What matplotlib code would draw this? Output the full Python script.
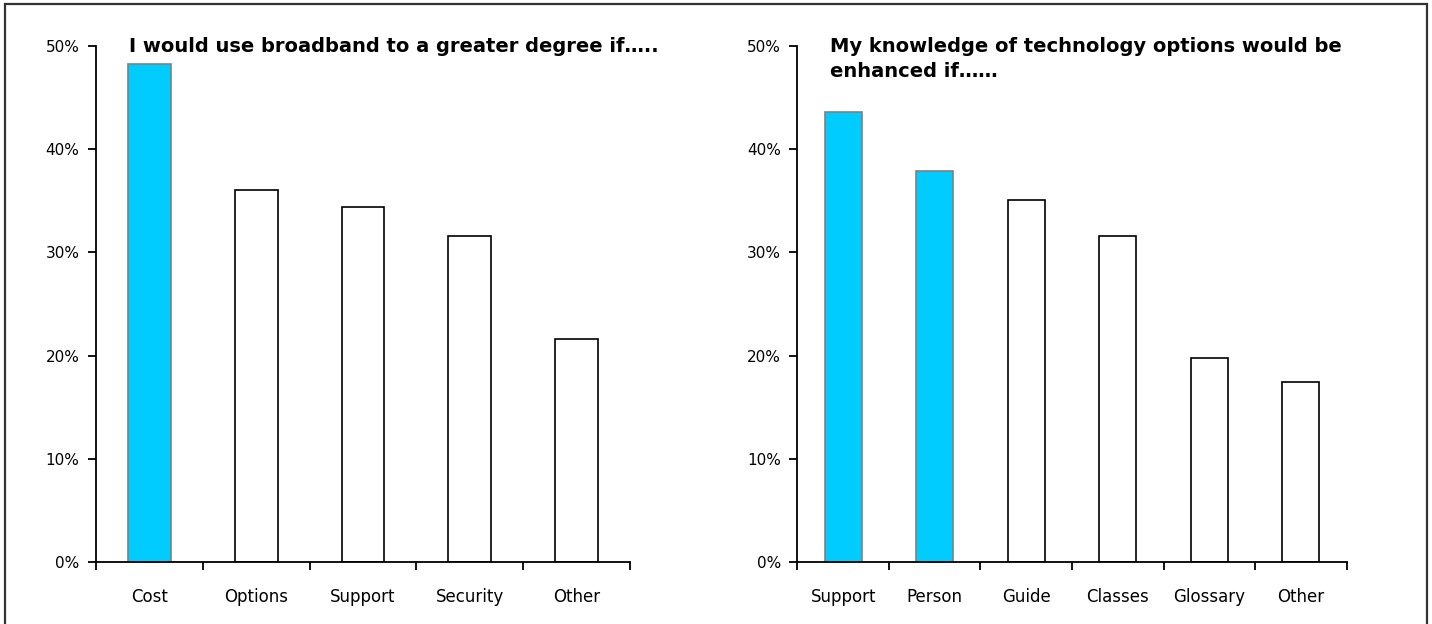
import matplotlib
matplotlib.use("Agg")
import matplotlib.pyplot as plt
from matplotlib.patches import Rectangle
from matplotlib.ticker import FuncFormatter, FixedLocator

plt.rcParams["font.family"] = ["DejaVu Sans"]

BLUE = "#00CCFF"

# survey answers, share of respondents
use_labels = ["Cost", "Options", "Support", "Security", "Other"]
use_values = [48.3, 36.0, 34.4, 31.6, 21.6]
use_highlight = [True, False, False, False, False]
use_title = "I would use broadband to a greater degree if….."

know_labels = ["Support", "Person", "Guide", "Classes", "Glossary", "Other"]
know_values = [43.6, 37.9, 35.1, 31.55, 19.8, 17.45]
know_highlight = [True, True, False, False, False, False]
know_title = "My knowledge of technology options would be\nenhanced if……"


def draw_panel(ax, labels, values, highlight, title):
    n = len(labels)
    centers = [i + 0.5 for i in range(n)]
    for x, v, hl in zip(centers, values, highlight):
        if hl:
            ax.bar(x, v / 100, width=0.4, color=BLUE, edgecolor="#808080", linewidth=1.2)
        else:
            ax.bar(x, v / 100, width=0.4, color="white", edgecolor="black", linewidth=1.2)

    ax.set_xlim(0, n)
    ax.set_ylim(0, 0.5)
    ax.set_yticks([0, 0.1, 0.2, 0.3, 0.4, 0.5])
    ax.yaxis.set_major_formatter(FuncFormatter(lambda y, _: f"{y*100:.0f}%"))

    # boundary ticks between categories, labels centred under the bars
    ax.xaxis.set_major_locator(FixedLocator(list(range(n + 1))))
    ax.xaxis.set_minor_locator(FixedLocator(centers))
    ax.set_xticklabels([""] * (n + 1))
    ax.set_xticklabels(labels, minor=True)

    ax.tick_params(axis="x", which="major", direction="out", length=6, width=1.3, color="black")
    ax.tick_params(axis="x", which="minor", length=0, pad=19, labelsize=12)
    ax.tick_params(axis="y", direction="out", length=6, width=1.3, pad=6, labelsize=11)

    for side in ("top", "right"):
        ax.spines[side].set_visible(False)
    for side in ("left", "bottom"):
        ax.spines[side].set_linewidth(1.3)
        ax.spines[side].set_color("black")

    ax.annotate(title, xy=(0, 1), xycoords="axes fraction",
                xytext=(23.5, 6.5), textcoords="offset points",
                fontsize=14, fontweight="bold", va="top", ha="left",
                linespacing=1.4)


fig = plt.figure(figsize=(14.32, 6.24), dpi=100)

ax1 = fig.add_axes([96 / 1432, 1 - 562 / 624, 534 / 1432, 516 / 624])
draw_panel(ax1, use_labels, use_values, use_highlight, use_title)

ax2 = fig.add_axes([797.5 / 1432, 1 - 562 / 624, 549 / 1432, 516 / 624])
draw_panel(ax2, know_labels, know_values, know_highlight, know_title)

# frame around the whole figure
fig.patches.append(Rectangle((5 / 1432, -0.05), 1422 / 1432, 1.05 - 4 / 624,
                             transform=fig.transFigure, fill=False,
                             edgecolor="#333333", linewidth=1.6))

fig.savefig("out.png", dpi=100)
